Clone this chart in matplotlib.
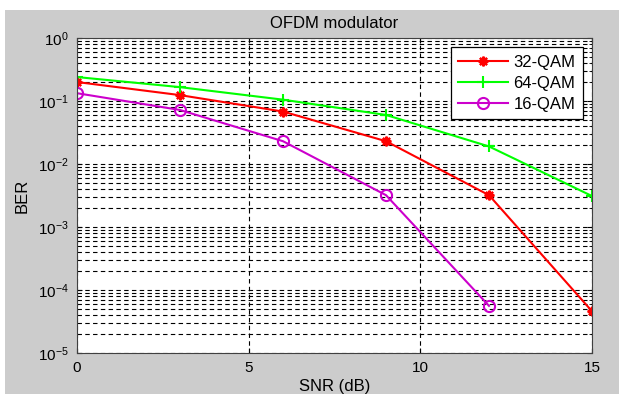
import matplotlib.pyplot as plt
from matplotlib.patches import Rectangle

plt.rcParams['font.family'] = ['Liberation Sans', 'DejaVu Sans']

snr = [0, 3, 6, 9, 12, 15]
ber_32 = [0.20, 0.124, 0.068, 0.023, 0.0032, 4.6e-5]
ber_64 = [0.24, 0.166, 0.105, 0.06, 0.019, 0.0031]
snr_16 = [0, 3, 6, 9, 12]
ber_16 = [0.133, 0.072, 0.023, 0.0032, 5.6e-5]

W, H = 619, 394
fig = plt.figure(figsize=(W / 100, H / 100), dpi=100, facecolor='white')
# grey figure panel, white strip at top and left like the screenshot
fig.patches.append(Rectangle((5 / W, 0), 1 - 5 / W, 1 - 10 / H, transform=fig.transFigure,
                             facecolor='#cccccc', edgecolor='none', zorder=-10))

ax = fig.add_axes([77 / W, 1 - 353 / H, (592 - 77) / W, (353 - 38) / H])
ax.set_facecolor('white')

ax.semilogy(snr, ber_32, color='red', marker=(8, 2, 0), ms=7, mew=1.6, lw=1.5, label='32-QAM')
ax.semilogy(snr, ber_64, color='#00ff00', marker='+', ms=9, mew=1.5, lw=1.5, label='64-QAM')
ax.semilogy(snr_16, ber_16, color='#cc00cc', marker='o', ms=8, mfc='none', mew=1.5, lw=1.5,
            label='16-QAM')

ax.set_xlim(0, 15)
ax.set_ylim(1e-5, 1)
ax.set_xticks([0, 5, 10, 15])
ax.set_yticks([1e-5, 1e-4, 1e-3, 1e-2, 1e-1, 1])
ax.grid(True, which='major', ls=(0, (4, 3)), color='black', lw=0.8)
ax.grid(True, which='minor', axis='y', ls=(0, (4, 3)), color='black', lw=0.8)
ax.tick_params(which='both', direction='in', top=True, right=True, labelsize=11, pad=6)
for s in ax.spines.values():
    s.set_color('#404040')

ax.set_title('OFDM modulator', fontsize=12, pad=7)
ax.set_xlabel('SNR (dB)', fontsize=12, labelpad=3)
ax.set_ylabel('BER', fontsize=12, labelpad=6)

leg = ax.legend(loc='upper right', fontsize=12, fancybox=False, framealpha=1,
                edgecolor='black', borderaxespad=0.55, handlelength=3, handletextpad=0.3,
                labelspacing=0.36, borderpad=0.45)
leg.get_frame().set_linewidth(0.9)

fig.savefig('out.png', dpi=100, facecolor=fig.get_facecolor())
